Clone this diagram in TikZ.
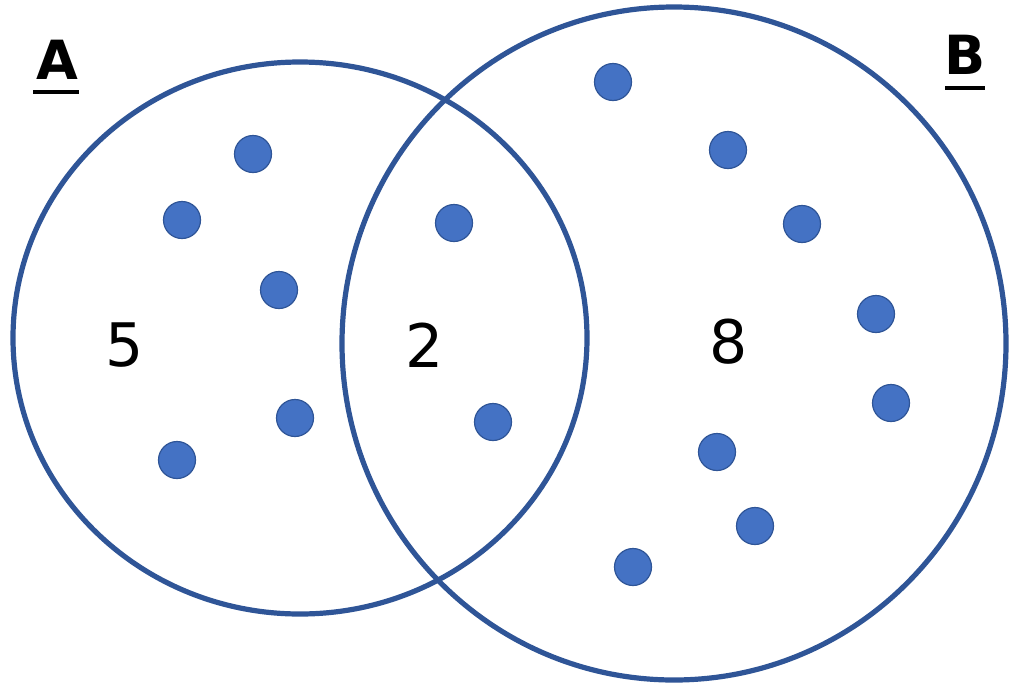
\documentclass[tikz,border=0pt]{standalone}
\usepackage{fontspec}
\setmainfont{DejaVu Sans}
\definecolor{ringblue}{HTML}{2F5597}
\definecolor{dotblue}{HTML}{4472C4}
\begin{document}
\begin{tikzpicture}[x=1pt,y=-1pt,
  ring/.style={draw=ringblue,line width=5.2pt},
  dot/.style={circle,fill=dotblue,draw=ringblue,line width=1.2pt,minimum size=37pt,inner sep=0pt},
  num/.style={font=\fontsize{60}{60}\selectfont},
  setlab/.style={font=\bfseries\fontsize{54}{54}\selectfont,inner sep=0pt},
  uline/.style={line width=4pt}]
\useasboundingbox (0,0) rectangle (1009,683);
\draw[ring] (300,338) ellipse [x radius=287, y radius=276];
\draw[ring] (674,343.5) ellipse [x radius=332, y radius=336.5];
\foreach \n/\x/\y in {a1/253/154,a2/182/220,a3/279/290,a4/295/418,a5/177/460,
  c1/454/223,c2/493/422,
  b1/613/82,b2/728/150,b3/802/224,b4/876/314,b5/891/403,b6/717/452,b7/755/526,b8/633/567}
  \node[dot] (\n) at (\x,\y) {};
\node[num] (nA) at (125,345) {5};
\node[num] (nC) at (425,345) {2};
\node[num] (nB) at (729,342) {8};
\node[setlab] (labA) at (57,60) {A};
\node[setlab] (labB) at (965,55) {B};
\coordinate (ua1) at (33,92); \coordinate (ua2) at (79,92);
\coordinate (ub1) at (945,88); \coordinate (ub2) at (985,88);
\draw[uline] (ua1) -- (ua2);
\draw[uline] (ub1) -- (ub2);
\end{tikzpicture}
\end{document}
